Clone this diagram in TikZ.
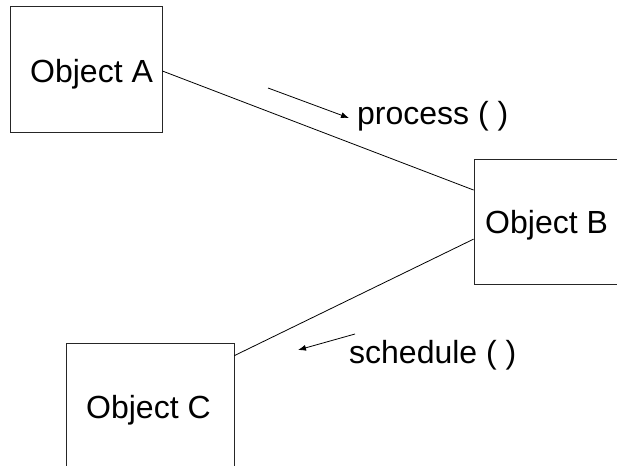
\documentclass[tikz,border=0pt]{standalone}
\usepackage{fontspec}
\setmainfont{Liberation Sans}
\usetikzlibrary{arrows.meta,calc}
\begin{document}
\begin{tikzpicture}[x=1pt,y=-1pt,
  objbox/.style={draw=black!85,line width=0.8pt,rectangle,inner sep=0pt},
  objlabel/.style={anchor=base west,inner sep=0pt,font=\fontsize{32}{38}\selectfont},
  link/.style={line width=0.8pt},
  msgarrow/.style={line width=0.8pt,-{Latex[length=8pt,width=6pt]}}]
  \useasboundingbox (0,0) rectangle (617,465);
  \clip (0,0) rectangle (617,465);

  % objects
  \node[objbox,minimum width=152pt,minimum height=126pt] (A) at (86,69) {};
  \node[objbox,minimum width=166pt,minimum height=125pt] (B) at (557,221.5) {};
  \node[objbox,minimum width=168pt,minimum height=147pt] (C) at (150,416.5) {};
  \node[objlabel] (la) at (30,83) {Object A};
  \node[objlabel] (lb) at (485,233) {Object B};
  \node[objlabel] (lc) at (86,418) {Object C};

  % links between objects
  \draw[link] ([yshift=-2pt]A.east) -- ($(B.north west)!0.25!(B.south west)$);
  \draw[link] ($(B.north west)!0.64!(B.south west)$) -- ([yshift=-13pt]C.north east);

  % messages
  \coordinate (p1) at (268,88);
  \coordinate (p2) at (349,118);
  \draw[msgarrow] (p1) -- (p2);
  \node[objlabel] (mp) at (357,125) {process ( )};

  \coordinate (s1) at (355,334);
  \coordinate (s2) at (298,350);
  \draw[msgarrow] (s1) -- (s2);
  \node[objlabel] (ms) at (349,363) {schedule ( )};
\end{tikzpicture}
\end{document}
